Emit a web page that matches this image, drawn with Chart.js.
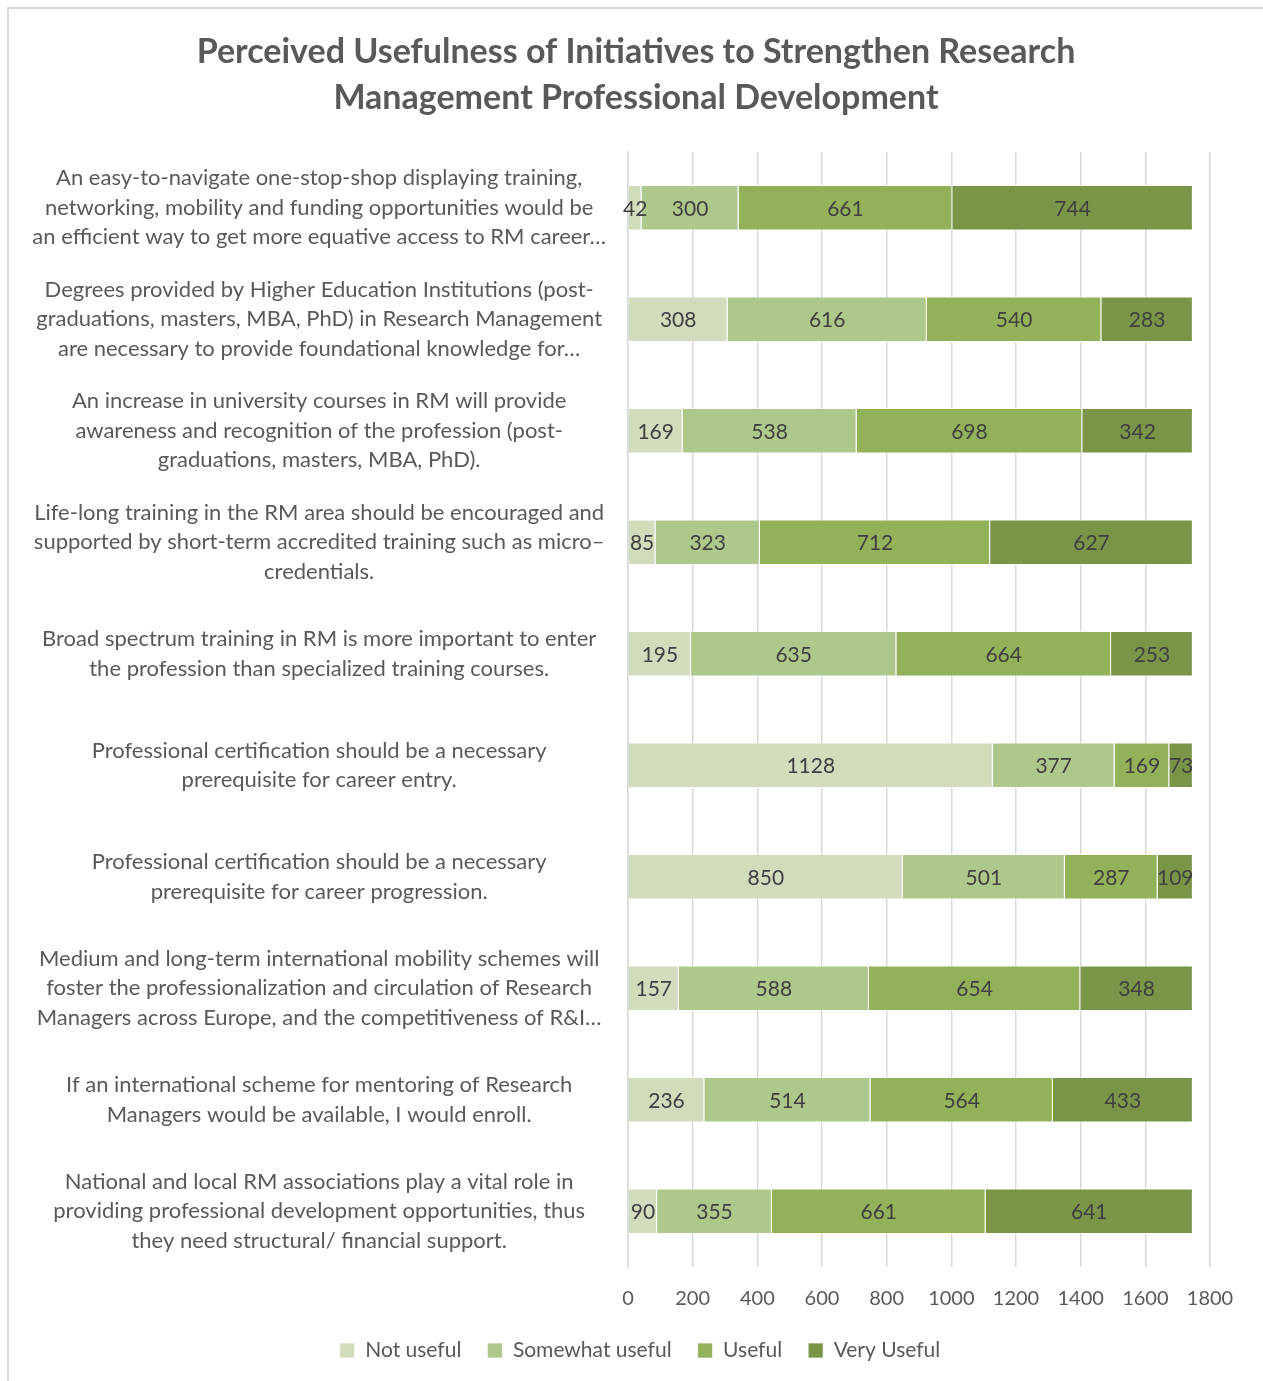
<!DOCTYPE html>
<html>
<head>
<meta charset="utf-8">
<script src="https://cdn.jsdelivr.net/npm/chart.js@4.4.1/dist/chart.umd.min.js"></script>
<style>
  body { margin: 0; background: #fff; }
  #wrap { position: relative; width: 1263px; height: 1381px; overflow: hidden; }
  #frame { position: absolute; left: 7px; top: 7px; width: 1400px; height: 1500px;
           border-top: 2px solid #d9d9d9; border-left: 2px solid #d9d9d9; }
  canvas { position: absolute; left: 0; top: 0; }
</style>
</head>
<body>
<div id="wrap">
  <div id="frame"></div>
  <canvas id="myChart" width="1263" height="1381"></canvas>
</div>
<script>
const chartTitle = ["Perceived Usefulness of Initiatives to Strengthen Research", "Management Professional Development"];

const categories = [
  ["An easy-to-navigate one-stop-shop displaying training,", "networking, mobility and funding opportunities would be", "an efficient way to get more equative access to RM career…"],
  ["Degrees provided by Higher Education Institutions (post-", "graduations, masters, MBA, PhD) in Research Management", "are necessary to provide foundational knowledge for…"],
  ["An increase in university courses in RM will provide", "awareness and recognition of the profession (post-", "graduations, masters, MBA, PhD)."],
  ["Life-long training in the RM area should be encouraged and", "supported by short-term accredited training such as micro–", "credentials."],
  ["Broad spectrum training in RM is more important to enter", "the profession than specialized training courses."],
  ["Professional certification should be a necessary", "prerequisite for career entry."],
  ["Professional certification should be a necessary", "prerequisite for career progression."],
  ["Medium and long-term international mobility schemes will", "foster the professionalization and circulation of Research", "Managers across Europe, and the competitiveness of R&I…"],
  ["If an international scheme for mentoring of Research", "Managers would be available, I would enroll."],
  ["National and local RM associations play a vital role in", "providing professional development opportunities, thus", "they need structural/ financial support."]
];

const notUseful      = [42, 308, 169, 85, 195, 1128, 850, 157, 236, 90];
const somewhatUseful = [300, 616, 538, 323, 635, 377, 501, 588, 514, 355];
const useful         = [661, 540, 698, 712, 664, 169, 287, 654, 564, 661];
const veryUseful     = [744, 283, 342, 627, 253, 73, 109, 348, 433, 641];

const seriesNames = ["Not useful", "Somewhat useful", "Useful", "Very Useful"];
const colors = ["#d0dcbc", "#aec78a", "#93b158", "#7a9547"];

const FONT = "Lato, 'Open Sans', sans-serif";
const textGray = "#595959";

// draws the value in the middle of every bar segment
const valueLabels = {
  id: "valueLabels",
  afterDatasetsDraw(chart) {
    const ctx = chart.ctx;
    ctx.save();
    ctx.font = "21px " + FONT;
    ctx.fillStyle = "#404040";
    ctx.textAlign = "center";
    ctx.textBaseline = "middle";
    chart.data.datasets.forEach((ds, i) => {
      chart.getDatasetMeta(i).data.forEach((bar, j) => {
        ctx.fillText(ds.data[j], (bar.x + bar.base) / 2, bar.y + 1);
      });
    });
    ctx.restore();
  }
};

// title drawn centred on the whole picture
const pageTitle = {
  id: "pageTitle",
  afterDraw(chart) {
    const ctx = chart.ctx;
    ctx.save();
    ctx.font = "bold 34px " + FONT;
    ctx.fillStyle = textGray;
    ctx.textAlign = "center";
    ctx.textBaseline = "middle";
    chartTitle.forEach((line, i) => ctx.fillText(line, 636, 52 + i * 46));
    ctx.restore();
  }
};

const ctx = document.getElementById("myChart").getContext("2d");

const myChart = new Chart(ctx, {
  type: "bar",
  data: {
    labels: categories,
    datasets: [notUseful, somewhatUseful, useful, veryUseful].map((d, i) => ({
      label: seriesNames[i],
      data: d,
      backgroundColor: colors[i],
      borderColor: "rgba(255,255,255,0.7)",
      borderWidth: 1,
      categoryPercentage: 1,
      barPercentage: 0.41,
    })),
  },
  plugins: [valueLabels, pageTitle],
  options: {
    indexAxis: "y",
    responsive: false,
    animation: false,
    layout: { padding: { top: 152, left: 20, right: 3, bottom: 10 } },
    scales: {
      x: {
        stacked: true,
        min: 0,
        max: 1800,
        ticks: {
          stepSize: 200,
          color: textGray,
          font: { family: FONT, size: 20 },
          padding: 20,
          callback: (v) => String(v),
        },
        grid: { color: "#d9d9d9", lineWidth: 1.5, drawTicks: false },
        border: { display: false },
        afterFit(scale) { scale.height = 47; },
      },
      y: {
        stacked: true,
        ticks: {
          color: textGray,
          crossAlign: "center",
          padding: 22,
          font: { family: FONT, size: 22, lineHeight: 1.34 },
        },
        grid: { display: false, drawTicks: false },
        border: { color: "#d9d9d9", width: 1.5 },
        afterFit(scale) { scale.width = 608; },
      },
      // empty space on the right so the legend centres like the original
      spacer: {
        type: "linear",
        position: "right",
        display: true,
        ticks: { display: false },
        grid: { display: false, drawTicks: false },
        border: { display: false },
        afterFit(scale) { scale.width = 50; },
      },
    },
    plugins: {
      title: { display: false },
      legend: {
        position: "bottom",
        labels: {
          color: textGray,
          font: { family: FONT, size: 21 },
          boxWidth: 15,
          boxHeight: 15,
          padding: 26,
        },
      },
      tooltip: { enabled: false },
    },
  },
});
</script>
</body>
</html>
